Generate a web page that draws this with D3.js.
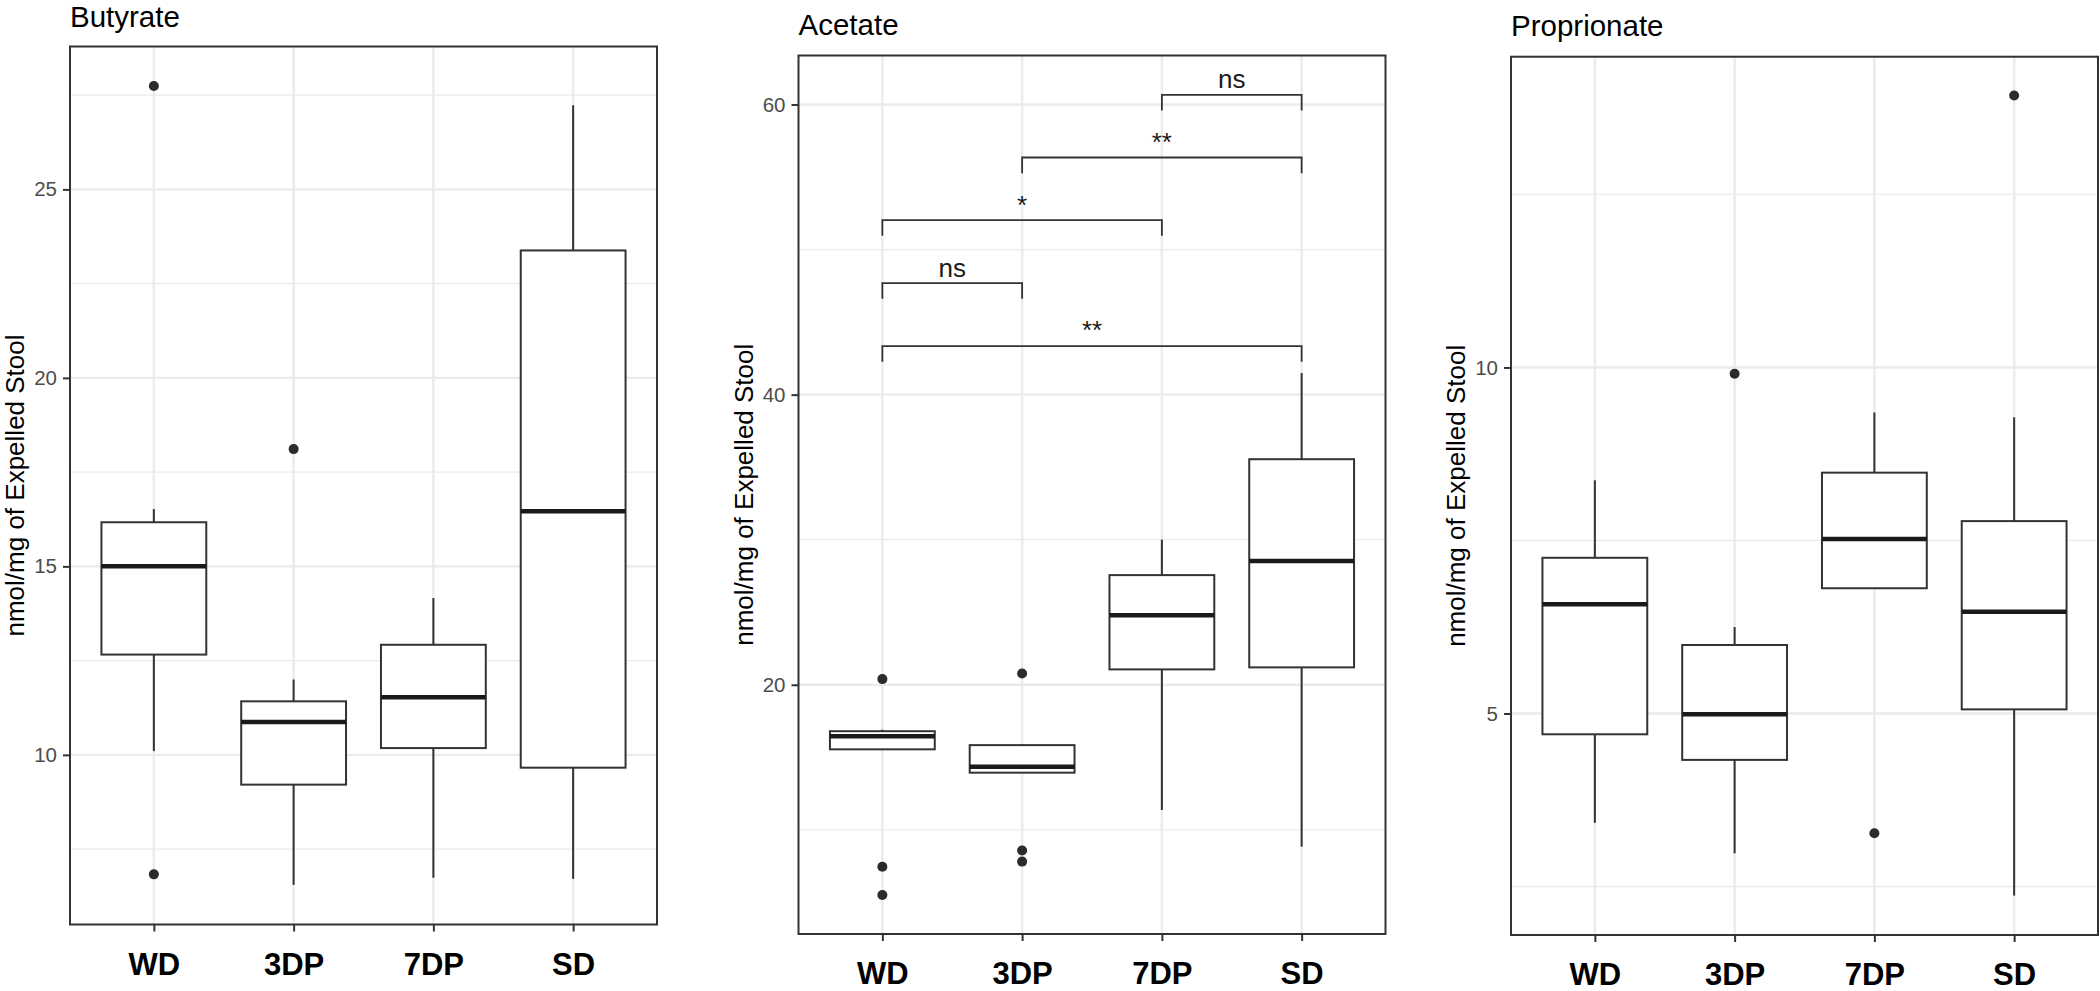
<!DOCTYPE html>
<html>
<head>
<meta charset="utf-8">
<script src="https://cdn.jsdelivr.net/npm/d3@7"></script>
<style>
  html, body { margin: 0; padding: 0; background: #ffffff; }
  svg { display: block; }
  text { font-family: "Liberation Sans", Arial, Helvetica, sans-serif; }
</style>
</head>
<body>
<svg id="chart" width="2100" height="991"></svg>
<script>
// ---------------- DATA ----------------
const categories = ["WD", "3DP", "7DP", "SD"];
const yTitle = "nmol/mg of Expelled Stool";

// Butyrate
const butyrateLow    = [10.10, 6.55, 6.74, 6.71];
const butyrateQ1     = [12.66, 9.21, 10.18, 9.66];
const butyrateMedian = [15.00, 10.87, 11.53, 16.46];
const butyrateQ3     = [16.17, 11.42, 12.92, 23.38];
const butyrateHigh   = [16.52, 12.00, 14.16, 27.23];
const butyrateOutlierGroup = ["WD", "WD", "3DP"];
const butyrateOutlierValue = [27.74, 6.83, 18.11];
const butyrateTicks = [10, 15, 20, 25];
const butyrateMinor = [7.5, 12.5, 17.5, 22.5, 27.5];
const butyrateDomain = [5.5, 28.79];

// Acetate
const acetateLow    = [15.55, 13.94, 11.37, 8.84];
const acetateQ1     = [15.55, 13.94, 21.06, 21.20];
const acetateMedian = [16.46, 14.35, 24.80, 28.54];
const acetateQ3     = [16.80, 15.84, 27.56, 35.55];
const acetateHigh   = [16.90, 15.90, 30.01, 41.49];
const acetateOutlierGroup = ["WD", "WD", "WD", "3DP", "3DP", "3DP"];
const acetateOutlierValue = [20.39, 7.46, 5.51, 20.78, 8.57, 7.81];
const acetateTicks = [20, 40, 60];
const acetateMinor = [10, 30, 50];
const acetateDomain = [2.82, 63.38];
// significance brackets (Acetate)
const bracketFrom   = ["7DP", "3DP", "WD", "WD", "WD"];
const bracketTo     = ["SD", "SD", "7DP", "3DP", "SD"];
const bracketY      = [60.67, 56.35, 52.03, 47.69, 43.35];
const bracketLabels = ["ns", "**", "*", "ns", "**"];
const bracketTip    = 1.08;

// Proprionate
const proprionateLow    = [3.42, 2.98, 6.81, 2.37];
const proprionateQ1     = [4.70, 4.33, 6.81, 5.06];
const proprionateMedian = [6.58, 4.99, 7.52, 6.47];
const proprionateQ3     = [7.25, 5.99, 8.48, 7.78];
const proprionateHigh   = [8.37, 6.25, 9.35, 9.28];
const proprionateOutlierGroup = ["3DP", "7DP", "SD"];
const proprionateOutlierValue = [9.91, 3.27, 13.93];
const proprionateTicks = [5, 10];
const proprionateMinor = [2.5, 7.5, 12.5];
const proprionateDomain = [1.8, 14.49];

// ---------------- BUILD ----------------
function boxRows(low, q1, med, q3, high) {
  return categories.map((c, i) => ({ cat: c, low: low[i], q1: q1[i], med: med[i], q3: q3[i], high: high[i] }));
}

const panels = [
  {
    title: "Butyrate",
    rows: boxRows(butyrateLow, butyrateQ1, butyrateMedian, butyrateQ3, butyrateHigh),
    outliers: butyrateOutlierGroup.map((g, i) => ({ cat: g, v: butyrateOutlierValue[i] })),
    ticks: butyrateTicks, minor: butyrateMinor, domain: butyrateDomain,
    left: 70, top: 46.5, bottom: 924.5, titleY: 27
  },
  {
    title: "Acetate",
    rows: boxRows(acetateLow, acetateQ1, acetateMedian, acetateQ3, acetateHigh),
    outliers: acetateOutlierGroup.map((g, i) => ({ cat: g, v: acetateOutlierValue[i] })),
    ticks: acetateTicks, minor: acetateMinor, domain: acetateDomain,
    left: 798.5, top: 55.5, bottom: 934, titleY: 34.5,
    brackets: bracketFrom.map((f, i) => ({ from: f, to: bracketTo[i], y: bracketY[i], label: bracketLabels[i] }))
  },
  {
    title: "Proprionate",
    rows: boxRows(proprionateLow, proprionateQ1, proprionateMedian, proprionateQ3, proprionateHigh),
    outliers: proprionateOutlierGroup.map((g, i) => ({ cat: g, v: proprionateOutlierValue[i] })),
    ticks: proprionateTicks, minor: proprionateMinor, domain: proprionateDomain,
    left: 1511, top: 56.7, bottom: 935, titleY: 36
  }
];

const PANEL_W = 587;
const svg = d3.select("#chart");
const ink = "#333333";

panels.forEach(p => {
  const right = p.left + PANEL_W;
  const x = d3.scalePoint().domain(categories).range([p.left, right]).padding(0.6);
  const y = d3.scaleLinear().domain(p.domain).range([p.bottom, p.top]);
  const boxW = x.step() * 0.75;
  const g = svg.append("g");

  // gridlines
  g.append("g").selectAll("line").data(p.minor).join("line")
    .attr("x1", p.left).attr("x2", right)
    .attr("y1", d => y(d)).attr("y2", d => y(d))
    .attr("stroke", "#ebebeb").attr("stroke-width", 1.3);
  g.append("g").selectAll("line").data(p.ticks).join("line")
    .attr("x1", p.left).attr("x2", right)
    .attr("y1", d => y(d)).attr("y2", d => y(d))
    .attr("stroke", "#ebebeb").attr("stroke-width", 2.4);
  g.append("g").selectAll("line").data(categories).join("line")
    .attr("x1", d => x(d)).attr("x2", d => x(d))
    .attr("y1", p.top).attr("y2", p.bottom)
    .attr("stroke", "#ebebeb").attr("stroke-width", 2.4);

  // boxes
  const bx = g.append("g").selectAll("g").data(p.rows).join("g");
  bx.append("line")
    .attr("x1", d => x(d.cat)).attr("x2", d => x(d.cat))
    .attr("y1", d => y(d.high)).attr("y2", d => y(d.q3))
    .attr("stroke", ink).attr("stroke-width", 2);
  bx.append("line")
    .attr("x1", d => x(d.cat)).attr("x2", d => x(d.cat))
    .attr("y1", d => y(d.q1)).attr("y2", d => y(d.low))
    .attr("stroke", ink).attr("stroke-width", 2);
  bx.append("rect")
    .attr("x", d => x(d.cat) - boxW / 2).attr("width", boxW)
    .attr("y", d => y(d.q3)).attr("height", d => y(d.q1) - y(d.q3))
    .attr("fill", "#ffffff").attr("stroke", ink).attr("stroke-width", 2);
  bx.append("line")
    .attr("x1", d => x(d.cat) - boxW / 2).attr("x2", d => x(d.cat) + boxW / 2)
    .attr("y1", d => y(d.med)).attr("y2", d => y(d.med))
    .attr("stroke", "#1a1a1a").attr("stroke-width", 4.5);

  // outliers
  g.append("g").selectAll("circle").data(p.outliers).join("circle")
    .attr("cx", d => x(d.cat)).attr("cy", d => y(d.v)).attr("r", 5)
    .attr("fill", "#2b2b2b");

  // brackets
  if (p.brackets) {
    const tip = Math.abs(y(0) - y(bracketTip));
    const bg = g.append("g").selectAll("g").data(p.brackets).join("g");
    bg.append("path")
      .attr("d", d => `M${x(d.from)},${y(d.y) + tip}V${y(d.y)}H${x(d.to)}V${y(d.y) + tip}`)
      .attr("fill", "none").attr("stroke", ink).attr("stroke-width", 1.8);
    bg.append("text")
      .attr("x", d => (x(d.from) + x(d.to)) / 2)
      .attr("y", d => y(d.y) - 6.6)
      .attr("text-anchor", "middle")
      .attr("font-size", 26).attr("fill", "#1a1a1a")
      .text(d => d.label);
  }

  // panel border
  g.append("rect")
    .attr("x", p.left).attr("y", p.top).attr("width", PANEL_W).attr("height", p.bottom - p.top)
    .attr("fill", "none").attr("stroke", ink).attr("stroke-width", 2);

  // axes
  const ay = g.append("g").attr("transform", `translate(${p.left},0)`)
    .call(d3.axisLeft(y).tickValues(p.ticks).tickSize(7).tickPadding(6).tickFormat(d3.format("d")));
  ay.select(".domain").remove();
  ay.selectAll(".tick line").attr("stroke", ink).attr("stroke-width", 2);
  ay.selectAll(".tick text").attr("font-size", 20.5).attr("fill", "#4d4d4d")
    .attr("font-family", "'Liberation Sans', Arial, sans-serif");

  const ax = g.append("g").attr("transform", `translate(0,${p.bottom})`)
    .call(d3.axisBottom(x).tickSize(7).tickPadding(21));
  ax.select(".domain").remove();
  ax.selectAll(".tick line").attr("stroke", ink).attr("stroke-width", 2);
  ax.selectAll(".tick text").attr("font-size", 31).attr("font-weight", "bold").attr("fill", "#000")
    .attr("font-family", "'Liberation Sans', Arial, sans-serif");

  // title
  g.append("text").attr("x", p.left).attr("y", p.titleY)
    .attr("font-size", 29.5).attr("fill", "#000").text(p.title);

  // y-axis title
  g.append("text")
    .attr("transform", `translate(${p.left - 46},${(p.top + p.bottom) / 2}) rotate(-90)`)
    .attr("text-anchor", "middle").attr("font-size", 26).attr("fill", "#000")
    .text(yTitle);
});
</script>
</body>
</html>
